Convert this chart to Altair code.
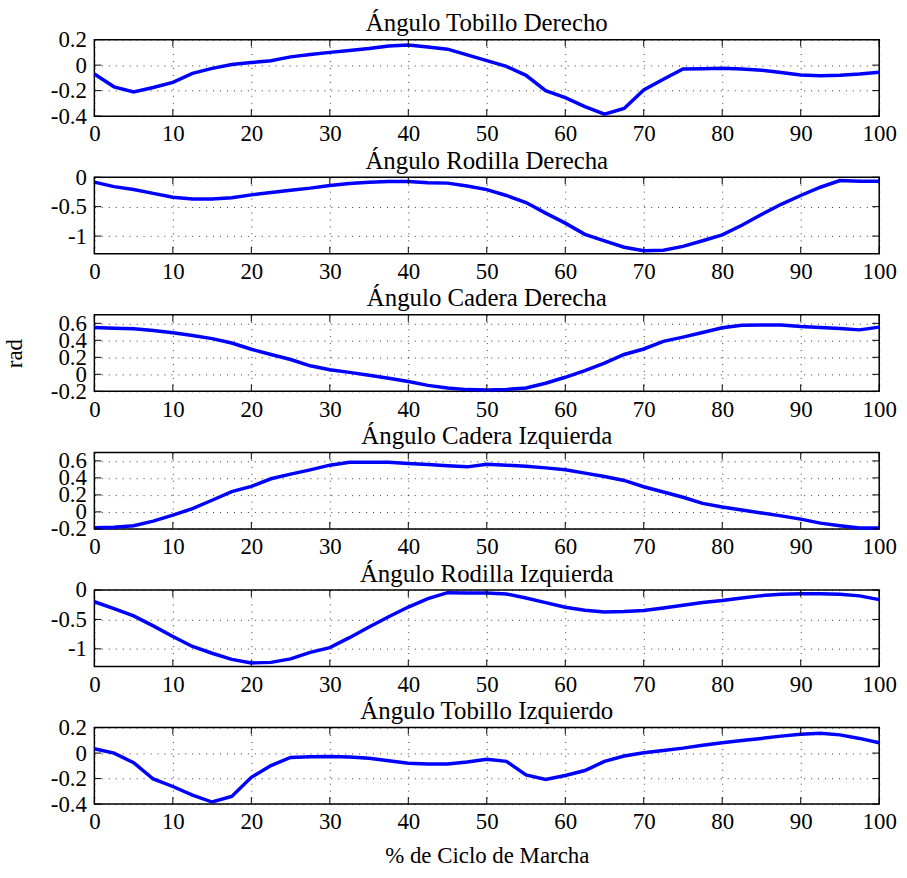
import altair as alt
import pandas as pd

PCT = [i * 2.5 for i in range(41)]
XTICKS = [0, 10, 20, 30, 40, 50, 60, 70, 80, 90, 100]

TITLES = ["Ángulo Tobillo Derecho", "Ángulo Rodilla Derecha", "Ángulo Cadera Derecha",
          "Ángulo Cadera Izquierda", "Ángulo Rodilla Izquierda", "Ángulo Tobillo Izquierdo"]

tobillo_der = [-0.07, -0.17, -0.21, -0.175, -0.135, -0.065, -0.025, 0.005, 0.02, 0.035,
               0.065, 0.083, 0.1, 0.115, 0.13, 0.15, 0.158, 0.143, 0.125, 0.08,
               0.035, -0.01, -0.08, -0.2, -0.255, -0.325, -0.385, -0.34, -0.195, -0.11,
               -0.03, -0.028, -0.025, -0.03, -0.04, -0.057, -0.078, -0.083, -0.08, -0.07,
               -0.055]
rodilla_der = [-0.084, -0.16, -0.21, -0.275, -0.34, -0.37, -0.37, -0.35, -0.30, -0.26,
               -0.22, -0.185, -0.14, -0.107, -0.084, -0.073, -0.073, -0.095, -0.10, -0.15,
               -0.21, -0.31, -0.43, -0.61, -0.78, -0.97, -1.08, -1.19, -1.25, -1.24,
               -1.175, -1.08, -0.98, -0.815, -0.635, -0.46, -0.31, -0.17, -0.056, -0.068,
               -0.068]
cadera_der = [0.55, 0.543, 0.535, 0.515, 0.488, 0.457, 0.42, 0.368, 0.295, 0.233,
              0.174, 0.10, 0.054, 0.023, -0.012, -0.047, -0.085, -0.13, -0.16, -0.18,
              -0.185, -0.178, -0.16, -0.105, -0.035, 0.043, 0.132, 0.233, 0.298, 0.388,
              0.438, 0.492, 0.547, 0.578, 0.58, 0.58, 0.562, 0.55, 0.54, 0.523,
              0.555]
cadera_izq = [-0.187, -0.18, -0.163, -0.109, -0.039, 0.039, 0.137, 0.238, 0.30, 0.39,
              0.444, 0.495, 0.55, 0.585, 0.585, 0.585, 0.569, 0.557, 0.542, 0.53,
              0.561, 0.549, 0.537, 0.518, 0.495, 0.456, 0.417, 0.37, 0.296, 0.234,
              0.172, 0.10, 0.058, 0.023, -0.012, -0.047, -0.085, -0.132, -0.163, -0.19,
              -0.19]
rodilla_izq = [-0.2, -0.315, -0.44, -0.61, -0.79, -0.96, -1.075, -1.18, -1.24, -1.23,
               -1.17, -1.06, -0.98, -0.81, -0.63, -0.455, -0.29, -0.147, -0.045, -0.05,
               -0.05, -0.068, -0.135, -0.214, -0.293, -0.344, -0.372, -0.366, -0.35, -0.305,
               -0.26, -0.214, -0.18, -0.135, -0.096, -0.073, -0.062, -0.062, -0.073, -0.10,
               -0.164]
tobillo_izq = [0.034, 0.0, -0.075, -0.203, -0.262, -0.33, -0.384, -0.34, -0.19, -0.098,
               -0.034, -0.028, -0.026, -0.03, -0.041, -0.06, -0.08, -0.086, -0.086, -0.07,
               -0.049, -0.065, -0.171, -0.207, -0.176, -0.137, -0.065, -0.023, 0.003, 0.021,
               0.039, 0.062, 0.081, 0.099, 0.115, 0.133, 0.148, 0.156, 0.143, 0.115,
               0.081]

SERIES = [tobillo_der, rodilla_der, cadera_der, cadera_izq, rodilla_izq, tobillo_izq]
YDOMAINS = [[-0.4, 0.2], [-1.3, 0], [-0.2, 0.7], [-0.2, 0.7], [-1.3, 0], [-0.4, 0.2]]
YTICKS = [[-0.4, -0.2, 0, 0.2], [-1, -0.5, 0], [-0.2, 0, 0.2, 0.4, 0.6],
          [-0.2, 0, 0.2, 0.4, 0.6], [-1, -0.5, 0], [-0.4, -0.2, 0, 0.2]]
TITLE_OFFSETS = [-7.5, -7.5, 1.5, 1.5, -7.5, -7.5]

W, H = 790, 77
FONT = "Liberation Serif"
FS = 23
TFS = 25
LBL = "'' + datum.value"


def panel(i):
    df = pd.DataFrame({"x": PCT, "y": SERIES[i]})
    xs = alt.Scale(domain=[0, 100], nice=False, zero=False)
    ys = alt.Scale(domain=YDOMAINS[i], nice=False, zero=False)
    xaxis = alt.Axis(values=XTICKS, grid=True, gridDash=[1, 6], gridColor="black",
                     gridOpacity=0.8, ticks=False, domain=False, labelPadding=7,
                     labelFont=FONT, labelFontSize=FS, labelColor="black",
                     labelExpr=LBL, labelFlush=False, labelOverlap=False,
                     title="% de Ciclo de Marcha" if i == 5 else None,
                     titleFont=FONT, titleFontSize=FS, titleFontWeight="normal",
                     titleColor="black", titlePadding=11)
    yaxis = alt.Axis(values=YTICKS[i], grid=True, gridDash=[1, 6], gridColor="black",
                     gridOpacity=0.8, ticks=False, domain=False, labelPadding=8,
                     labelFont=FONT, labelFontSize=FS, labelColor="black",
                     labelExpr=LBL, labelFlush=False, labelOverlap=False,
                     title="rad" if i == 2 else None,
                     titleFont=FONT, titleFontSize=FS, titleFontWeight="normal",
                     titleColor="black", titlePadding=24)
    line = alt.Chart(df).mark_line(color="#0000ff", strokeWidth=3.5).encode(
        x=alt.X("x:Q", scale=xs, axis=xaxis),
        y=alt.Y("y:Q", scale=ys, axis=yaxis),
    )
    xt = pd.DataFrame({"t": XTICKS})
    yt = pd.DataFrame({"t": YTICKS[i]})
    tl = 7
    xtop = alt.Chart(xt).mark_rule(color="black", strokeWidth=1).encode(
        x=alt.X("t:Q", scale=xs, axis=xaxis), y=alt.value(0), y2=alt.value(tl))
    xbot = alt.Chart(xt).mark_rule(color="black", strokeWidth=1).encode(
        x=alt.X("t:Q", scale=xs, axis=xaxis), y=alt.value(H - tl), y2=alt.value(H))
    yl = alt.Chart(yt).mark_rule(color="black", strokeWidth=1).encode(
        y=alt.Y("t:Q", scale=ys, axis=yaxis), x=alt.value(0), x2=alt.value(tl))
    yr = alt.Chart(yt).mark_rule(color="black", strokeWidth=1).encode(
        y=alt.Y("t:Q", scale=ys, axis=yaxis), x=alt.value(W - tl), x2=alt.value(W))
    return alt.layer(line, xtop, xbot, yl, yr).properties(
        width=W, height=H,
        title=alt.TitleParams(TITLES[i], font=FONT, fontSize=TFS, fontWeight="normal",
                              color="black", offset=TITLE_OFFSETS[i], anchor="middle"),
    )


chart = alt.vconcat(*[panel(i) for i in range(6)], spacing=61.5, bounds="flush").properties(
    padding={"left": 2, "top": 7, "right": 10, "bottom": 5},
).configure(background="white").configure_view(stroke="black", strokeWidth=1.5)

chart.save("out.html", embed_options={"renderer": "svg", "actions": False})
